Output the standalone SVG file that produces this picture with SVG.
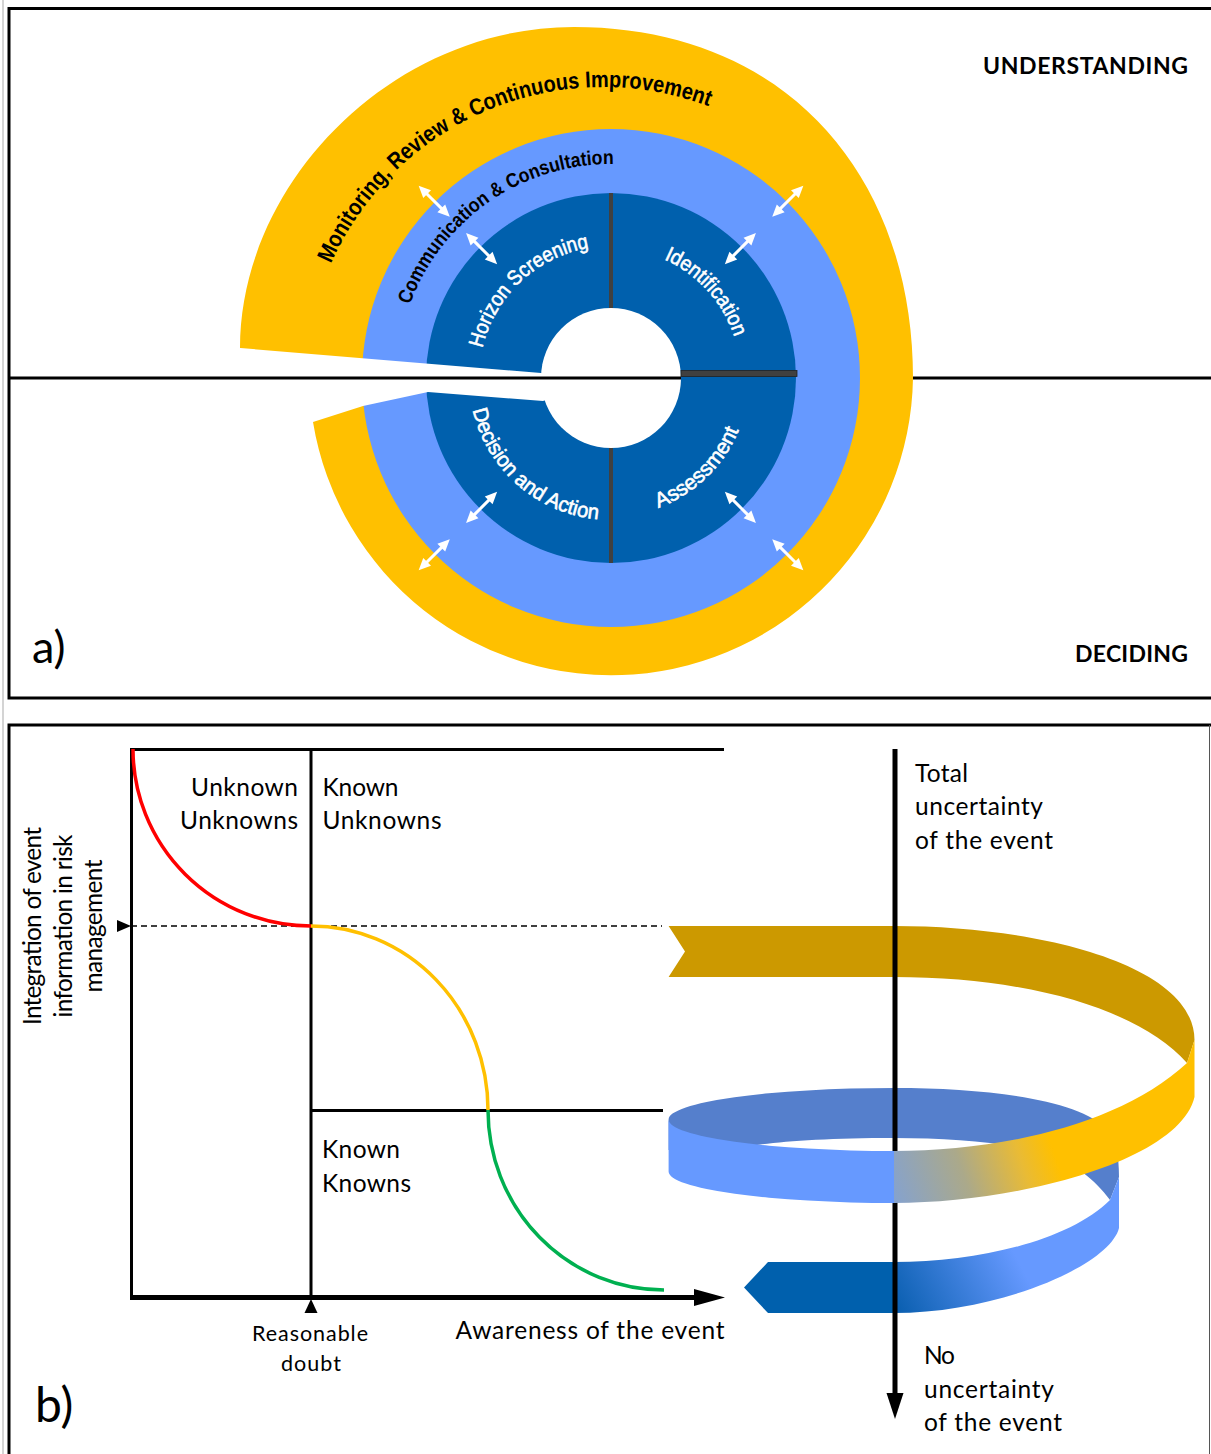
<svg xmlns="http://www.w3.org/2000/svg" width="1211" height="1454" viewBox="0 0 1211 1454">
<style>
.frame{fill:none;stroke:#000;stroke-width:3}
.ring{font-family:"Liberation Sans",Arial,sans-serif}
.rk{fill:#000;font-weight:700}
.rw{fill:#fff;stroke:#fff;stroke-width:0.6}
.lb{font-family:Lato,"Open Sans",sans-serif;font-size:24.5px;fill:#000}
.sm{font-family:Lato,"Open Sans",sans-serif;font-size:21.5px;fill:#000}
.hd{font-family:Lato,"Open Sans",sans-serif;font-weight:700;font-size:23px;fill:#000}
.big{font-family:Lato,"Open Sans",sans-serif;fill:#000}
.ax{stroke:#000;stroke-width:3;fill:none}
.div{fill:#404040}
</style>
<defs>
  <!-- baselines for the curved ring labels -->
  <path id="pMon" d="M330.8,263.8 A298,298 0 0 1 773.9,140.9"/>
  <path id="pCom" d="M409.9,304.8 A214,214 0 0 1 648.2,167.3"/>
  <path id="pHor" d="M482.4,348.3 A132,132 0 0 1 599.5,246.5"/>
  <path id="pIde" d="M663.9,259.2 A130,130 0 0 1 739,355.4"/>
  <path id="pDec" d="M472.6,409.9 A142,142 0 0 0 623.4,519.5"/>
  <path id="pAss" d="M658.2,507.7 A138,138 0 0 0 744.3,413.7"/>
  <!-- white double-headed arrow, horizontal, centred on the origin -->
  <g id="dbl">
    <line x1="-12" y1="0" x2="12" y2="0" stroke="#fff" stroke-width="3"/>
    <polygon points="22,0 10,-5.5 10,5.5" fill="#fff"/>
    <polygon points="-22,0 -10,-5.5 -10,5.5" fill="#fff"/>
  </g>
  <linearGradient id="gUp" gradientUnits="userSpaceOnUse" x1="890" y1="1195" x2="1050" y2="1140">
    <stop offset="0" stop-color="#84A2D0"/>
    <stop offset="0.45" stop-color="#ABA98A"/>
    <stop offset="0.8" stop-color="#E9BB35"/>
    <stop offset="1" stop-color="#FFC000"/>
  </linearGradient>
  <linearGradient id="gLow" gradientUnits="userSpaceOnUse" x1="894" y1="1305" x2="1010" y2="1245">
    <stop offset="0" stop-color="#0A5FB0"/>
    <stop offset="1" stop-color="#6699FF"/>
  </linearGradient>
</defs>

<rect width="1211" height="1454" fill="#fff"/>
<line x1="3" y1="0" x2="3" y2="1454" stroke="#d4d4d4" stroke-width="2"/>

<!-- ============ panel a ============ -->
<g id="panel-a-frame">
  <polyline class="frame" points="1211,8.5 9,8.5 9,698 1211,698"/>
</g>

<g id="ring-monitoring">
  <path fill="#FFC000" d="M313,422 A302,302 0 0 0 913,378 C913,180 790,27 574,27 C390,27 240,185 240,348 Z"/>
</g>
<g id="ring-communication">
  <circle cx="611" cy="378" r="249" fill="#6699FF"/>
</g>
<g id="ring-core">
  <circle cx="611" cy="378" r="185" fill="#0060AD"/>
  <circle cx="611" cy="378" r="70" fill="#fff"/>
</g>
<!-- opening of the cycle on the left -->
<polygon fill="#fff" points="200,344.7 541,373 611,378 543,401 428,392 363,406 313,422 200,450"/>

<g id="dividers">
  <rect class="div" x="609" y="193" width="4" height="115"/>
  <rect class="div" x="609" y="448" width="4" height="115"/>
  <rect class="div" x="681" y="370.5" width="116" height="6" stroke="#222" stroke-width="0.8"/>
</g>

<g id="axis-line-a">
  <line x1="9" y1="378" x2="681" y2="378" stroke="#000" stroke-width="3"/>
  <line x1="913" y1="378" x2="1211" y2="378" stroke="#000" stroke-width="3"/>
</g>

<g id="ring-arrows">
  <use href="#dbl" transform="translate(434.2,201.2) rotate(45)"/>
  <use href="#dbl" transform="translate(787.8,201.2) rotate(-45)"/>
  <use href="#dbl" transform="translate(434.2,554.8) rotate(-45)"/>
  <use href="#dbl" transform="translate(787.8,554.8) rotate(45)"/>
  <use href="#dbl" transform="translate(481.6,248.6) rotate(45)"/>
  <use href="#dbl" transform="translate(740.4,248.6) rotate(-45)"/>
  <use href="#dbl" transform="translate(481.6,507.4) rotate(-45)"/>
  <use href="#dbl" transform="translate(740.4,507.4) rotate(45)"/>
</g>

<g id="ring-labels" class="ring">
  <text class="rk" font-size="23"><textPath href="#pMon" textLength="451" lengthAdjust="spacingAndGlyphs">Monitoring, Review &amp; Continuous Improvement</textPath></text>
  <text class="rk" font-size="20"><textPath href="#pCom" textLength="264" lengthAdjust="spacingAndGlyphs">Communication &amp; Consultation</textPath></text>
  <text class="rw" font-size="21"><textPath href="#pHor" textLength="155" lengthAdjust="spacingAndGlyphs">Horizon Screening</textPath></text>
  <text class="rw" font-size="21"><textPath href="#pIde" textLength="108" lengthAdjust="spacingAndGlyphs">Identification</textPath></text>
  <text class="rw" font-size="21"><textPath href="#pDec" textLength="178" lengthAdjust="spacingAndGlyphs">Decision and Action</textPath></text>
  <text class="rw" font-size="21"><textPath href="#pAss" textLength="115" lengthAdjust="spacingAndGlyphs">Assessment</textPath></text>
</g>

<g id="panel-a-labels">
  <text class="hd" x="1188" y="74" text-anchor="end" textLength="205">UNDERSTANDING</text>
  <text class="hd" x="1188" y="662" text-anchor="end" textLength="113">DECIDING</text>
  <text class="big" x="32" y="663" font-size="45">a)</text>
</g>

<!-- ============ panel b ============ -->
<g id="panel-b-frame">
  <polyline class="frame" points="1211,725 9,725 9,1454"/>
  <line x1="1209.5" y1="725" x2="1209.5" y2="1454" stroke="#555" stroke-width="1"/>
</g>

<g id="grid">
  <line class="ax" x1="131.5" y1="748" x2="131.5" y2="1298"/>
  <line class="ax" x1="130" y1="749.5" x2="724" y2="749.5"/>
  <line class="ax" x1="311" y1="749" x2="311" y2="1298"/>
  <line class="ax" x1="311" y1="1110.5" x2="663" y2="1110.5"/>
  <line x1="131" y1="926" x2="662" y2="926" stroke="#000" stroke-width="1.3" stroke-dasharray="6 4"/>
  <polygon points="117,920 131,926 117,932" fill="#000"/>
  <line x1="130" y1="1297.5" x2="700" y2="1297.5" stroke="#000" stroke-width="5"/>
  <polygon points="694,1289 725,1297.5 694,1306" fill="#000"/>
  <polygon points="304.5,1313 317.5,1313 311,1299" fill="#000"/>
</g>

<g id="curves" fill="none" stroke-width="3.5">
  <path d="M133,749 A178,177 0 0 0 311,926" stroke="#FF0000"/>
  <path d="M311,926 A177,184 0 0 1 488,1110" stroke="#FFC000"/>
  <path d="M488,1110 A176,180 0 0 0 664,1290" stroke="#00B050"/>
</g>

<g id="region-labels">
  <text class="lb" x="298" y="796" text-anchor="end" textLength="107">Unknown</text>
  <text class="lb" x="298" y="829" text-anchor="end" textLength="118">Unknowns</text>
  <text class="lb" x="322.5" y="796" textLength="76">Known</text>
  <text class="lb" x="322.5" y="829" textLength="119">Unknowns</text>
  <text class="lb" x="322" y="1158" textLength="78">Known</text>
  <text class="lb" x="322" y="1191.5" textLength="89">Knowns</text>
</g>

<g id="axis-labels">
  <text class="lb" transform="translate(41,926) rotate(-90)" text-anchor="middle" textLength="198">Integration of event</text>
  <text class="lb" transform="translate(72,926) rotate(-90)" text-anchor="middle" textLength="183">information in risk</text>
  <text class="lb" transform="translate(102,926) rotate(-90)" text-anchor="middle" textLength="133">management</text>
  <text class="sm" x="310" y="1340.5" text-anchor="middle" textLength="116">Reasonable</text>
  <text class="sm" x="311" y="1370.5" text-anchor="middle" textLength="60">doubt</text>
  <text class="lb" x="455.5" y="1339" textLength="269">Awareness of the event</text>
  <text class="big" x="35" y="1421.5" font-size="48">b)</text>
</g>

<g id="helix">
  <!-- inner face of the middle turn -->
  <path fill="#557FCC" d="M668.6,1119.5 A225.4,31.5 0 0 1 894,1088 C990,1088 1080,1100 1108,1130 C1116,1140 1119,1155 1119,1177 L1110,1200 C1095,1180 1075,1162 1040,1152 C1000,1142 950,1138 894,1138 C830,1138 785,1141 757,1145 L700,1150 L668.6,1150 Z"/>
  <!-- top turn, seen from behind -->
  <path fill="#CC9900" d="M668.6,926 L894,926 C1040,926 1194.5,965 1194.5,1040 L1187,1063 C1140,1010 1030,977 894,977 L668.6,977 L685,951.5 Z"/>
  <!-- bottom turn ending in the arrow -->
  <path fill="#0060AD" d="M894.5,1262 L768,1262 L744,1287.5 L768,1313 L894.5,1313 Z"/>
  <path fill="url(#gLow)" d="M894,1262 C980,1262 1070,1240 1110,1200 L1119,1177 L1119,1228 C1110,1265 1000,1313 894,1313 Z"/>
</g>

<g id="uncertainty-axis">
  <line x1="895" y1="749" x2="895" y2="1396" stroke="#000" stroke-width="5"/>
  <polygon points="886.5,1393 895,1419 903.5,1393" fill="#000"/>
</g>

<g id="helix-front">
  <path fill="#6699FF" d="M894.5,1151 A225.4,31.5 0 0 1 668.6,1119.5 L668.6,1171.5 A225.4,31.5 0 0 0 894.5,1203 Z"/>
  <path fill="url(#gUp)" d="M894,1151 C1000,1151 1120,1125 1187,1063 L1194.5,1040 L1194.5,1097 C1180,1160 1020,1203 894,1203 Z"/>
</g>

<g id="uncertainty-labels">
  <text class="lb" x="915" y="781.5" textLength="53">Total</text>
  <text class="lb" x="915" y="815" textLength="128">uncertainty</text>
  <text class="lb" x="915" y="849" textLength="138">of the event</text>
  <text class="lb" x="924" y="1364" textLength="31">No</text>
  <text class="lb" x="924" y="1397.5" textLength="130">uncertainty</text>
  <text class="lb" x="924" y="1431" textLength="138">of the event</text>
</g>
</svg>
